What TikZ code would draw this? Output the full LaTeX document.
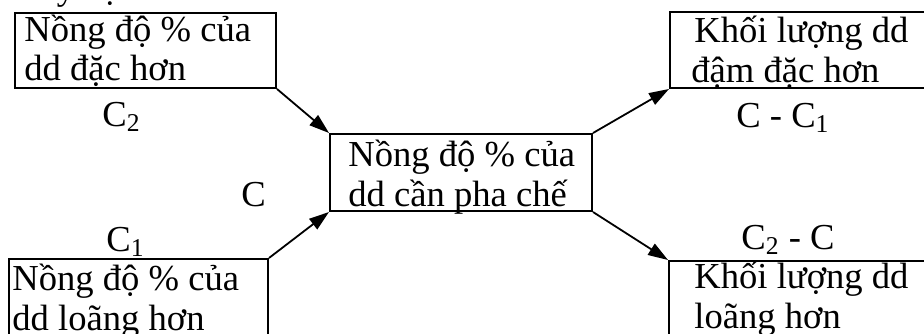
\documentclass[tikz,border=0pt]{standalone}
\usepackage{fontspec}
\setmainfont{Liberation Serif}
\usetikzlibrary{arrows.meta}

\begin{document}
\begin{tikzpicture}[x=0.5pt,y=-0.5pt,
    box/.style={draw, line width=1pt, inner sep=0pt, anchor=north west},
    txt/.style={inner sep=0pt, anchor=base west, font=\fontsize{18.3}{20}\selectfont},
    arr/.style={->, line width=0.9pt, >={Triangle[length=10pt,width=6.5pt]}}]
\useasboundingbox (0,0) rectangle (924,333);

    \node[txt] (intro) at (22,-1) {hay cụ thể hơn là có:};

    % boxes
    \node[box, minimum width=130.5pt, minimum height=37.5pt] (dac) at (14,12) {};
    \node[box, minimum width=131pt, minimum height=38.5pt] (can) at (329,133) {};
    \node[box, minimum width=135.5pt, minimum height=38pt] (kldac) at (669,11) {};
    \node[box, minimum width=129.5pt, minimum height=46pt] (loang) at (8,258) {};
    \node[box, minimum width=136pt, minimum height=45pt] (klloang) at (668,260) {};

    % box texts
    \node[txt] (dac1) at (24,41) {Nồng độ \% của};
    \node[txt] (dac2) at (24,80) {dd đặc hơn};
    \node[txt] (can1) at (348,166) {Nồng độ \% của};
    \node[txt] (can2) at (348,206) {dd cần pha chế};
    \node[txt] (kldac1) at (694,42) {Khối lượng dd};
    \node[txt] (kldac2) at (691,82) {đậm đặc hơn};
    \node[txt] (loang1) at (12,290) {Nồng độ \% của};
    \node[txt] (loang2) at (12,330) {dd loãng hơn};
    \node[txt] (klloang1) at (694,288) {Khối lượng dd};
    \node[txt] (klloang2) at (694,328) {loãng hơn};

    % concentrations
    \node[txt] (ctwo) at (102,126) {C\textsubscript{2}};
    \node[txt] (cone) at (106,251) {C\textsubscript{1}};
    \node[txt] (cmix) at (241,206) {C};
    \node[txt] (diffa) at (736,127) {C - C\textsubscript{1}};
    \node[txt] (diffb) at (741,249) {C\textsubscript{2} - C};

    \draw[arr] (dac.south east)--(can.north west);
    \draw[arr] (loang.north east)--(can.south west);
    \draw[arr] (can.north east)--(kldac.south west);
    \draw[arr] (can.south east)--(klloang.north west);

\end{tikzpicture}
\end{document}
